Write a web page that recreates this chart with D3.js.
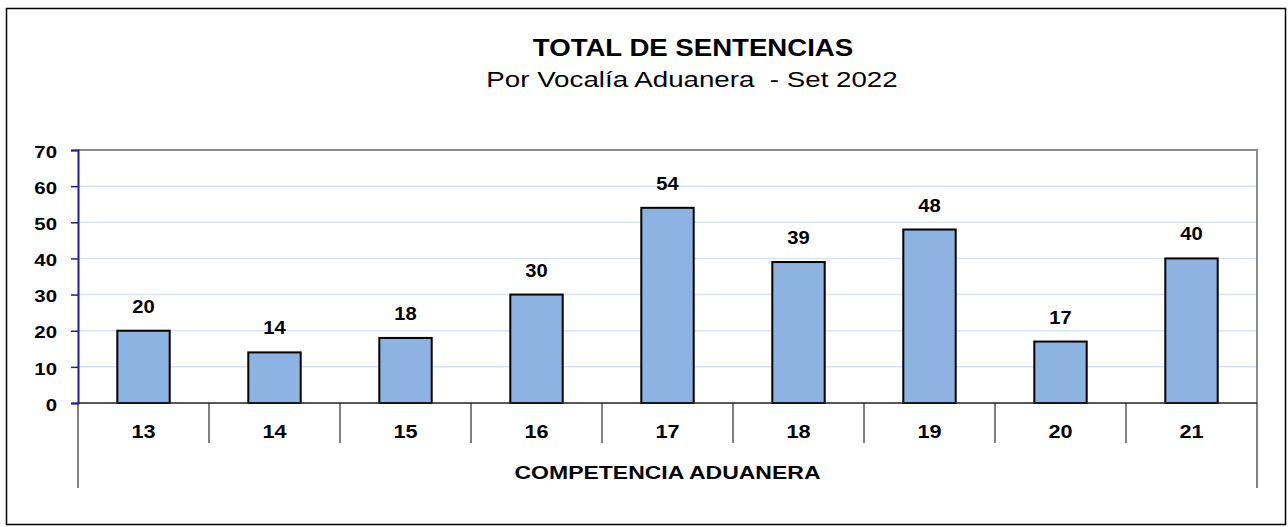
<!DOCTYPE html>
<html>
<head>
<meta charset="utf-8">
<script src="https://cdn.jsdelivr.net/npm/d3@7"></script>
<style>
  body { margin: 0; background: #fff; }
  svg { font-family: "Liberation Sans", Arial, sans-serif; }
</style>
</head>
<body>
<div id="chart"></div>
<script>
var categories = ['13', '14', '15', '16', '17', '18', '19', '20', '21'];
var values = [20, 14, 18, 30, 54, 39, 48, 17, 40];
var yTicks = [0, 10, 20, 30, 40, 50, 60, 70];

var width = 1288;
var height = 527;
var margin = { top: 150, right: 31, bottom: 124, left: 78 };
var graphWidth = width - margin.left - margin.right;
var graphHeight = height - margin.top - margin.bottom;

// text in the source picture is a bit wider than plain Arial
var stretch = 1.2;

var data = categories.map(function (c, i) { return { cat: c, value: values[i] }; });

function addText(parent, x, y, str, size, weight, sx) {
  return parent.append('text')
    .attr('transform', 'translate(' + x + ',' + y + ') scale(' + sx + ',1)')
    .attr('text-anchor', 'middle')
    .attr('font-size', size)
    .attr('font-weight', weight)
    .attr('xml:space', 'preserve')
    .text(str);
}

var svg = d3.select('#chart')
  .append('svg')
  .attr('width', width)
  .attr('height', height);

// outer frame
svg.append('rect')
  .attr('x', 6.5).attr('y', 8.5)
  .attr('width', 1279).attr('height', 516)
  .attr('fill', 'none')
  .attr('stroke', '#000')
  .attr('stroke-width', 1.5);

// titles
addText(svg, 693, 56, 'TOTAL DE SENTENCIAS', 23, 'bold', stretch);
addText(svg, 692, 87, 'Por Vocalía Aduanera  - Set 2022', 22, 'normal', 1.26);

var graph = svg.append('g')
  .attr('transform', 'translate(' + margin.left + ',' + margin.top + ')');

var x = d3.scaleBand().domain(categories).range([0, graphWidth]);
var y = d3.scaleLinear().domain([0, 70]).range([graphHeight, 0]);

// gridlines
graph.append('g')
  .selectAll('line')
  .data(yTicks.filter(function (t) { return t > 0 && t < 70; }))
  .enter().append('line')
  .attr('x1', 0).attr('x2', graphWidth)
  .attr('y1', function (d) { return y(d); })
  .attr('y2', function (d) { return y(d); })
  .attr('stroke', '#d9e4f2')
  .attr('stroke-width', 1.5);

// plot area border top & right
graph.append('path')
  .attr('d', 'M0,' + y(70) + 'H' + graphWidth + 'V' + graphHeight)
  .attr('fill', 'none')
  .attr('stroke', '#8c8c8c')
  .attr('stroke-width', 2);

// category separators
var seps = d3.range(categories.length + 1);
graph.append('g')
  .selectAll('line')
  .data(seps)
  .enter().append('line')
  .attr('x1', function (d) { return d === categories.length ? graphWidth : x(categories[d]); })
  .attr('x2', function (d) { return d === categories.length ? graphWidth : x(categories[d]); })
  .attr('y1', graphHeight)
  .attr('y2', function (d) { return (d === 0 || d === categories.length) ? graphHeight + 85 : graphHeight + 40; })
  .attr('stroke', '#000')
  .attr('stroke-width', 1);

// bars
graph.selectAll('rect.bar')
  .data(data)
  .enter().append('rect')
  .attr('class', 'bar')
  .attr('x', function (d) { return x(d.cat) + x.bandwidth() * 0.3; })
  .attr('y', function (d) { return y(d.value); })
  .attr('width', x.bandwidth() * 0.4)
  .attr('height', function (d) { return graphHeight - y(d.value); })
  .attr('fill', '#8db3e2')
  .attr('stroke', '#000')
  .attr('stroke-width', 2);

// value labels
data.forEach(function (d) {
  addText(graph, x(d.cat) + x.bandwidth() / 2, y(d.value) - 18, String(d.value), 18, 'bold', 1.12);
});

// x axis line
graph.append('line')
  .attr('x1', 0).attr('x2', graphWidth)
  .attr('y1', graphHeight).attr('y2', graphHeight)
  .attr('stroke', '#222')
  .attr('stroke-width', 1.5);

// y axis
var yAxis = d3.axisLeft(y).tickValues(yTicks).tickSize(7).tickPadding(0);
var yAxisGroup = graph.append('g').call(yAxis);
yAxisGroup.select('.domain').attr('stroke', '#1f1f8f').attr('stroke-width', 2);
yAxisGroup.selectAll('.tick line').attr('stroke', '#1f1f8f').attr('stroke-width', 1.5);
yAxisGroup.selectAll('.tick text')
  .attr('x', 0)
  .attr('dy', '0.42em')
  .attr('transform', 'translate(-21,0) scale(' + stretch + ',1)')
  .attr('font-size', 17).attr('font-weight', 'bold')
  .attr('font-family', '"Liberation Sans", Arial, sans-serif')
  .attr('fill', '#000');

// category labels
categories.forEach(function (c) {
  addText(graph, x(c) + x.bandwidth() / 2, graphHeight + 35, c, 19, 'bold', 1.14);
});

// axis title
addText(graph, graphWidth / 2, graphHeight + 76, 'COMPETENCIA ADUANERA', 19, 'bold', 1.21);
</script>
</body>
</html>
